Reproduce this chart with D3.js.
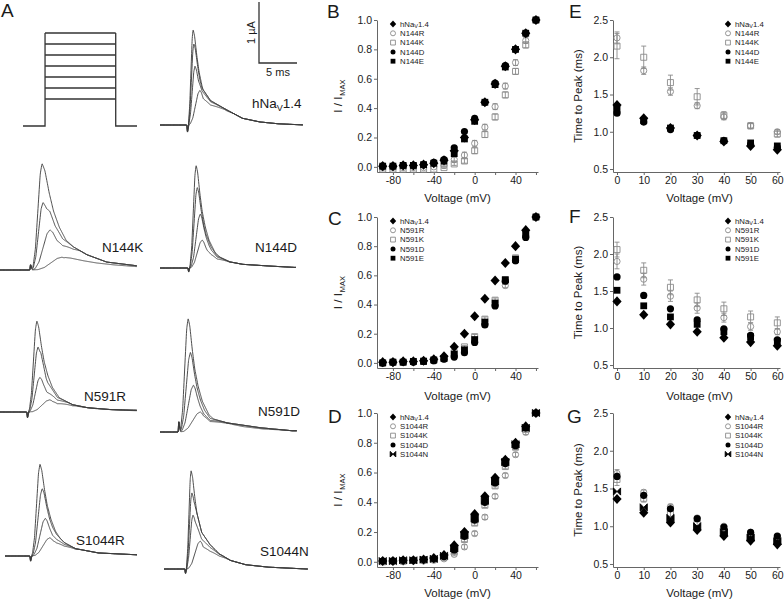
<!DOCTYPE html>
<html><head><meta charset="utf-8">
<script src="https://cdn.jsdelivr.net/npm/d3@7"></script>
<style>
body{margin:0;background:#fff}
svg{display:block}
text{font-family:"Liberation Sans",Arial,Helvetica,sans-serif}
</style>
</head><body>
<svg id="fig" width="784" height="599"></svg>
<script>
// ================= DATA =================
// Panel A: voltage protocol (mV / ms)
const protoLevels = [0, 10, 20, 30, 40, 50, 60];
const protoHolding = -120;
const protoTimes = [0, 2.9, 12.2, 15];   // start, step on, step off, end
const scaleBarUA = 1, scaleBarMs = 5;

// Panel A: current traces (time after onset in ms, current in µA)
const traceLabels = ["hNa", "N144K", "N144D", "N591R", "N591D", "S1044R", "S1044N"];
const traceOnsets = [3.55, 3.95, 3.7, 3.55, 2.4, 3.3, 2.76];
const traceSpikes = [0.15, -0.1, 0.08, 0.12, -0.2, 0.1, 0.1];
const traceDecay  = [1.0, 1.9, 1.0, 1.2, 1.1, 1.2, 1.0];
const tracePeaks = [
  [[0.8, 1.57], [0.9, 1.34], [1.05, 0.97], [1.7, 0.57]],
  [[1.58, 1.75], [1.71, 1.11], [2.63, 0.66], [4.2, 0.21]],
  [[1.05, 1.69], [1.2, 1.33], [1.6, 0.89], [1.85, 0.46]],
  [[1.3, 1.5], [1.45, 1.07], [1.7, 0.57], [3.0, 0.2]],
  [[1.3, 1.87], [1.6, 1.31], [2.0, 0.77], [2.9, 0.33]],
  [[1.3, 1.51], [1.6, 1.11], [2.0, 0.62], [2.6, 0.30]],
  [[0.8, 1.62], [0.9, 1.26], [1.05, 0.89], [2.0, 0.46]]
];
const traceTails = [
  [[1.0, 1.0], [1.5, 0.8], [2.0, 0.6], [3.1, 0.4], [5.2, 0.25], [7.3, 0.11], [9.6, 0.05], [12, 0.02], [15.5, 0]],
  [[2.0, 1.2], [2.6, 1.1], [3.3, 0.8], [4.3, 0.54], [5.7, 0.38], [7.5, 0.25], [10.1, 0.13], [14, 0.07], [17, 0.05]],
  [[1.5, 1.1], [2.2, 0.6], [3.0, 0.35], [3.8, 0.2], [5.5, 0.1], [7.2, 0.06], [11, 0.03], [14, 0.01]],
  [[1.8, 1.1], [2.6, 0.55], [4, 0.25], [6, 0.12], [8, 0.07], [11, 0.04], [14, 0.03], [17, 0.02]],
  [[1.8, 1.3], [2.8, 0.5], [4.2, 0.23], [6.4, 0.15], [10.8, 0.07], [15, 0.02]],
  [[1.8, 1.0], [2.6, 0.55], [3.5, 0.35], [4.5, 0.22], [6, 0.12], [9, 0.05], [14, 0.02]],
  [[1.2, 1.1], [2.2, 0.6], [3.3, 0.4], [4.5, 0.25], [6, 0.14], [8, 0.07], [11, 0.03], [16, 0]]
];

// Panels B-D: normalized current vs voltage
const ivVoltages = [-90, -80, -70, -60, -50, -40, -30, -20, -10, 0, 10, 20, 30, 40, 50, 60];
const ivTickLabels = [-80, -40, 0, 40];
const ivTickAll = [-80, -60, -40, -20, 0, 20, 40, 60];
const ivYTicks = [0, 0.2, 0.4, 0.6, 0.8, 1.0];

const wtIV    = [0.005, 0.005, 0.01, 0.01, 0.015, 0.025, 0.045, 0.11, 0.2, 0.32, 0.44, 0.565, 0.685, 0.80, 0.91, 1.0];
const n144rIV = [-0.005, -0.005, -0.005, -0.005, -0.005, 0, 0.01, 0.05, 0.08, 0.16, 0.27, 0.41, 0.55, 0.71, 0.86, 1.0];
const n144kIV = [-0.015, -0.015, -0.015, -0.015, -0.015, -0.015, -0.005, 0.02, 0.04, 0.11, 0.22, 0.34, 0.49, 0.65, 0.83, 1.0];
const n144dIV = [0.005, 0.005, 0.01, 0.01, 0.015, 0.03, 0.05, 0.13, 0.24, 0.33, 0.44, 0.57, 0.69, 0.80, 0.91, 1.0];
const n144eIV = [0.005, 0.005, 0.01, 0.01, 0.015, 0.025, 0.04, 0.09, 0.19, 0.31, 0.44, 0.56, 0.68, 0.80, 0.91, 1.0];
const n144rIVErr = [0, 0, 0, 0, 0, 0, 0.005, 0.015, 0.02, 0.02, 0.02, 0.02, 0.02, 0.02, 0.02, 0];
const n144kIVErr = [0, 0, 0, 0, 0, 0, 0.005, 0.01, 0.015, 0.02, 0.02, 0.02, 0.02, 0.02, 0.02, 0];

const n591rIV = [0, 0, 0.005, 0.005, 0.01, 0.015, 0.025, 0.05, 0.08, 0.15, 0.27, 0.40, 0.53, 0.70, 0.87, 1.0];
const n591kIV = [0, 0.005, 0.005, 0.01, 0.015, 0.02, 0.03, 0.07, 0.11, 0.18, 0.30, 0.43, 0.57, 0.72, 0.88, 1.0];
const n591dIV = [0, 0.005, 0.005, 0.005, 0.01, 0.015, 0.025, 0.04, 0.07, 0.14, 0.26, 0.39, 0.56, 0.70, 0.86, 1.0];
const n591eIV = [0, 0.005, 0.005, 0.01, 0.01, 0.02, 0.03, 0.06, 0.09, 0.16, 0.28, 0.41, 0.57, 0.71, 0.88, 1.0];
const n591rIVErr = [0, 0, 0, 0, 0, 0, 0.005, 0.01, 0.01, 0.015, 0.015, 0.015, 0.015, 0.015, 0.015, 0];
const n591kIVErr = [0, 0, 0, 0, 0, 0, 0.005, 0.01, 0.01, 0.015, 0.015, 0.015, 0.015, 0.015, 0.015, 0];

const s1044rIV = [0, 0, 0, 0.005, 0.005, 0.01, 0.02, 0.05, 0.10, 0.19, 0.30, 0.44, 0.58, 0.72, 0.87, 1.0];
const s1044kIV = [0, 0.005, 0.005, 0.01, 0.01, 0.015, 0.03, 0.07, 0.15, 0.26, 0.38, 0.51, 0.64, 0.77, 0.89, 1.0];
const s1044dIV = [0.005, 0.005, 0.01, 0.01, 0.015, 0.02, 0.035, 0.08, 0.17, 0.28, 0.40, 0.53, 0.66, 0.78, 0.90, 1.0];
const s1044nIV = [0.005, 0.005, 0.01, 0.01, 0.015, 0.02, 0.04, 0.09, 0.18, 0.29, 0.41, 0.54, 0.67, 0.79, 0.90, 1.0];
const s1044rIVErr = [0, 0, 0, 0, 0, 0, 0.005, 0.01, 0.015, 0.015, 0.015, 0.015, 0.015, 0.015, 0.015, 0];
const s1044kIVErr = [0, 0, 0, 0, 0, 0, 0.005, 0.01, 0.015, 0.015, 0.015, 0.015, 0.015, 0.015, 0.015, 0];

// Panels E-G: time to peak (ms) vs voltage
const tpVoltages = [0, 10, 20, 30, 40, 50, 60];
const tpYTicks = [0.5, 1.0, 1.5, 2.0, 2.5];
const wtTP    = [1.36, 1.18, 1.05, 0.95, 0.87, 0.81, 0.76];
const n144rTP = [2.26, 1.82, 1.54, 1.35, 1.20, 1.08, 1.00];
const n144kTP = [2.15, 2.00, 1.66, 1.47, 1.22, 1.08, 0.97];
const n144dTP = [1.25, 1.13, 1.03, 0.95, 0.88, 0.83, 0.79];
const n144eTP = [1.30, 1.15, 1.05, 0.95, 0.88, 0.85, 0.81];
const n144rTPErr = [0.08, 0.05, 0.05, 0.04, 0.04, 0.03, 0.03];
const n144kTPErr = [0.17, 0.15, 0.10, 0.11, 0.05, 0.04, 0.04];

const n591rTP = [1.90, 1.66, 1.43, 1.27, 1.14, 1.02, 0.95];
const n591kTP = [2.06, 1.78, 1.55, 1.38, 1.26, 1.15, 1.07];
const n591dTP = [1.69, 1.44, 1.26, 1.11, 0.99, 0.90, 0.84];
const n591eTP = [1.51, 1.30, 1.15, 1.05, 0.95, 0.88, 0.82];
const n591rTPErr = [0.10, 0.08, 0.07, 0.07, 0.06, 0.05, 0.04];
const n591kTPErr = [0.10, 0.10, 0.10, 0.09, 0.09, 0.08, 0.08];

const s1044rTP = [1.70, 1.45, 1.26, 1.11, 1.00, 0.92, 0.86];
const s1044kTP = [1.62, 1.37, 1.17, 1.04, 0.94, 0.87, 0.82];
const s1044dTP = [1.66, 1.41, 1.23, 1.10, 0.99, 0.92, 0.87];
const s1044nTP = [1.46, 1.25, 1.11, 1.00, 0.92, 0.85, 0.80];
const s1044rTPErr = [0.05, 0.03, 0.03, 0.02, 0.02, 0.02, 0.02];
const s1044kTPErr = [0.08, 0.05, 0.04, 0.03, 0.03, 0.02, 0.02];

const namesN144  = ["WT", "N144R", "N144K", "N144D", "N144E"];
const namesN591  = ["WT", "N591R", "N591K", "N591D", "N591E"];
const namesS1044 = ["WT", "S1044R", "S1044K", "S1044D", "S1044N"];

// ================= LAYOUT / STYLE =================
const svg = d3.select("#fig");
const TXT = "#1a1a1a", AX = "#666", GR = "#8a8a8a", TR = "#3a3a3a";
const pxPerMs = 7.6, pxPerUA = 61;

// panel letters
[["A", 1, 17], ["B", 327, 18], ["C", 328, 225], ["D", 328, 423],
 ["E", 569, 18], ["F", 569, 223], ["G", 567, 423]].forEach(([t, x, y]) =>
  svg.append("text").attr("x", x).attr("y", y).attr("font-size", 19).attr("fill", TXT).text(t));

// ---- voltage protocol
(function () {
  const x = d3.scaleLinear().domain([0, 1]).range([23, 23 + pxPerMs]);
  const y = d3.scaleLinear().domain([protoHolding, 0, 60]).range([126, 99, 33]);
  const g = svg.append("g").attr("stroke", "#333").attr("stroke-width", 1.3).attr("fill", "none");
  const [t0, tOn, tOff, tEnd] = protoTimes;
  const top = d3.max(protoLevels);
  const path = d3.path();
  path.moveTo(x(t0), y(protoHolding)); path.lineTo(x(tOn), y(protoHolding));
  path.lineTo(x(tOn), y(top)); path.moveTo(x(tOff), y(top));
  path.lineTo(x(tOff), y(protoHolding)); path.lineTo(x(tEnd), y(protoHolding));
  g.append("path").attr("d", path.toString());
  protoLevels.forEach(v => g.append("line").attr("x1", x(tOn)).attr("x2", x(tOff)).attr("y1", y(v)).attr("y2", y(v)));
})();

// ---- scale bar
(function () {
  const x0 = 259, y0 = 63;
  const g = svg.append("g").attr("stroke", "#333").attr("stroke-width", 1.3).attr("fill", "none");
  g.append("path").attr("d", `M${x0},${y0 - scaleBarUA * pxPerUA}V${y0}H${x0 + scaleBarMs * pxPerMs}`);
  svg.append("text").attr("transform", `translate(${x0 - 4},${y0 - scaleBarUA * pxPerUA / 2}) rotate(-90)`)
    .attr("text-anchor", "middle").attr("font-size", 11).attr("fill", TXT).text(scaleBarUA + " µA");
  svg.append("text").attr("x", x0 + scaleBarMs * pxPerMs / 2).attr("y", y0 + 13)
    .attr("text-anchor", "middle").attr("font-size", 11).attr("fill", TXT).text(scaleBarMs + " ms");
})();

// ---- current traces
const traceLayout = [
  {x0: 160, x1: 303, base: 125, lx: 252, ly: 108},
  {x0: 0,   x1: 137, base: 270, lx: 102, ly: 252},
  {x0: 160, x1: 296, base: 268, lx: 255, ly: 252},
  {x0: 0,   x1: 137, base: 412, lx: 84,  ly: 401},
  {x0: 160, x1: 297, base: 432, lx: 258, ly: 416},
  {x0: 5,   x1: 137, base: 556, lx: 76,  ly: 545},
  {x0: 164, x1: 308, base: 569, lx: 260, ly: 556}
];
const riseShape  = d3.scaleLinear().domain([0, 0.25, 0.45, 0.65, 0.85, 1]).range([0, 0.03, 0.2, 0.55, 0.9, 1]).clamp(true);
const spikeShape = d3.scaleLinear().domain([0, 0.06, 0.15, 0.3]).range([0, 1, 0.4, 0]).clamp(true);
const decayShape = d3.scaleLinear().domain([0, 0.2, 0.5, 0.8, 1.2, 1.7, 2.5, 4, 6]).range([1, 0.93, 0.72, 0.55, 0.4, 0.27, 0.15, 0.05, 0]).clamp(true);

traceLabels.forEach((lab, i) => {
  const L = traceLayout[i];
  const tMax = (L.x1 - L.x0) / pxPerMs;
  const x = d3.scaleLinear().domain([0, tMax]).range([L.x0, L.x1]);
  const y = d3.scaleLinear().domain([0, 1]).range([L.base, L.base - pxPerUA]);
  const tl = traceTails[i];
  const tail = d3.scaleLinear().domain(tl.map(d => d[0])).range(tl.map(d => d[1])).clamp(true);
  const onset = traceOnsets[i], spike = traceSpikes[i], dec = traceDecay[i];
  const line = d3.line().x(d => x(d[0])).y(d => y(d[1])).curve(d3.curveBasis);
  const g = svg.append("g");
  tracePeaks[i].forEach(([tp, amp]) => {
    const f0 = Math.min(1, amp / (tail(tp) * 1.1));
    const pts = d3.range(0, tMax + 1e-6, 0.04).map(t => {
      const tr = t - onset;
      let I;
      if (tr < 0) I = 0;
      else if (tr <= tp) I = amp * riseShape(tr / tp) - spike * spikeShape(tr);
      else {
        const f = f0 + (1 - f0) * Math.min(1, (tr - tp) / 4);
        I = Math.max(amp * decayShape((tr - tp) / dec), f * tail(tr));
        I = Math.min(I, amp * decayShape((tr - tp) / (dec * 3)));
      }
      return [t, I];
    });
    g.append("path").attr("d", line(pts)).attr("fill", "none").attr("stroke", TR).attr("stroke-width", 0.9);
  });
  const t = svg.append("text").attr("x", L.lx).attr("y", L.ly).attr("font-size", 13.5).attr("fill", TXT);
  if (lab === "hNa") {
    t.append("tspan").text("hNa");
    t.append("tspan").attr("font-size", 9).attr("dy", 3).text("V");
    t.append("tspan").attr("dy", -3).text("1.4");
  } else t.text(lab);
});

// ---- markers
function markerPath(type, s) {
  if (type === "diamond") return `M0,${-s * 1.1}L${s},0L0,${s * 1.1}L${-s},0Z`;
  if (type === "circle") return `M${-s},0a${s},${s} 0 1,0 ${2 * s},0a${s},${s} 0 1,0 ${-2 * s},0Z`;
  if (type === "square") return `M${-s},${-s}h${2 * s}v${2 * s}h${-2 * s}Z`;
  if (type === "bowtie") return `M${-s},${-s}L0,0L${-s},${s}ZM${s},${-s}L0,0L${s},${s}Z`;
}
const markerSpec = [
  {type: "diamond", fill: "#000", stroke: "none", s: 4.6, ls: 3.2},
  {type: "circle", fill: "none", stroke: GR, s: 3.1, ls: 2.5},
  {type: "square", fill: "none", stroke: GR, s: 3.0, ls: 2.4},
  {type: "circle", fill: "#000", stroke: "none", s: 3.6, ls: 2.5},
  {type: "square", fill: "#000", stroke: "none", s: 3.4, ls: 2.4}
];
function specFor(k, last) {
  if (k === 4 && last === "bowtie") return {type: "bowtie", fill: "#000", stroke: "#000", s: 3.6, ls: 2.8};
  return markerSpec[k];
}
function drawMarker(g, spec, cx, cy, s) {
  g.append("path").attr("transform", `translate(${cx},${cy})`).attr("d", markerPath(spec.type, s))
    .attr("fill", spec.fill).attr("stroke", spec.stroke).attr("stroke-width", spec.stroke === "none" ? 0 : 0.9);
}

function styleAxis(sel) {
  sel.selectAll("path,line").attr("stroke", AX).attr("stroke-width", 1);
  sel.selectAll("text").attr("fill", TXT).attr("font-size", 10.5)
     .attr("font-family", '"Liberation Sans",Arial,Helvetica,sans-serif');
}

function legend(g, names, lastType, mx, y0) {
  names.forEach((n, k) => {
    const spec = specFor(k, lastType);
    const yy = y0 + k * 9.3;
    drawMarker(g, spec, mx, yy, spec.ls);
    const t = g.append("text").attr("x", mx + 7).attr("y", yy + 2.8).attr("font-size", 7.8).attr("fill", TXT);
    if (k === 0) {
      t.append("tspan").text("hNa");
      t.append("tspan").attr("font-size", 5.5).attr("dy", 1.5).text("V");
      t.append("tspan").attr("dy", -1.5).text("1.4");
    } else t.text(n);
  });
}

function scatterPanel(cfg) {
  const g = svg.append("g");
  const {x, y} = cfg;
  const xa = d3.axisBottom(x).tickValues(cfg.xTicks).tickSize(3).tickSizeOuter(0).tickPadding(2)
    .tickFormat(d => cfg.xLabels.includes(d) ? String(d) : "");
  styleAxis(g.append("g").attr("transform", `translate(0,${y.range()[0]})`).call(xa));
  const ya = d3.axisLeft(y).tickValues(cfg.yTicks).tickSize(3).tickSizeOuter(0).tickPadding(2)
    .tickFormat(d3.format(".1f"));
  styleAxis(g.append("g").attr("transform", `translate(${x.range()[0]},0)`).call(ya));
  g.append("text").attr("x", (x.range()[0] + x.range()[1]) / 2 + cfg.xtDx).attr("y", cfg.xtY)
    .attr("text-anchor", "middle").attr("font-size", 11.5).attr("fill", TXT).text("Voltage (mV)");
  const yt = g.append("text").attr("transform", `translate(${cfg.ytX},${(y.range()[0] + y.range()[1]) / 2}) rotate(-90)`)
    .attr("text-anchor", "middle").attr("font-size", 11.5).attr("fill", TXT);
  if (cfg.kind === "iv") {
    yt.append("tspan").text("I / I");
    yt.append("tspan").attr("font-size", 7.5).attr("dy", 3).attr("dx", 1).text("MAX");
  } else yt.text("Time to Peak (ms)");
  const order = [1, 2, 3, 4, 0];
  order.forEach(k => {
    const spec = specFor(k, cfg.lastType);
    const vals = cfg.series[k];
    const err = cfg.errors[k];
    vals.forEach((v, j) => {
      const cx = x(cfg.xs[j]), cy = y(v);
      if (err && err[j] > 0) {
        const y1 = y(v + err[j]), y2 = y(v - err[j]);
        const col = spec.fill === "none" ? GR : "#000";
        g.append("path").attr("d", `M${cx},${y1}V${y2}M${cx - 2.5},${y1}h5M${cx - 2.5},${y2}h5`)
          .attr("stroke", col).attr("stroke-width", 0.9).attr("fill", "none");
      }
      drawMarker(g, spec, cx, cy, spec.s);
    });
  });
  legend(g, cfg.names, cfg.lastType, cfg.legX, y.range()[1] + 4);
}

const ivX = () => d3.scaleLinear().domain([-95.6, 62]).range([377, 538]);
const tpX = () => d3.scaleLinear().domain([-1.5, 61]).range([613, 780]);
const rows = [{top: 20, bottom: 172, title: 202}, {top: 217, bottom: 368, title: 400}, {top: 413, bottom: 567, title: 597}];

const ivSets = [
  {series: [wtIV, n144rIV, n144kIV, n144dIV, n144eIV], errors: [null, n144rIVErr, n144kIVErr, null, null], names: namesN144, lastType: "square"},
  {series: [wtIV, n591rIV, n591kIV, n591dIV, n591eIV], errors: [null, n591rIVErr, n591kIVErr, null, null], names: namesN591, lastType: "square"},
  {series: [wtIV, s1044rIV, s1044kIV, s1044dIV, s1044nIV], errors: [null, s1044rIVErr, s1044kIVErr, null, null], names: namesS1044, lastType: "bowtie"}
];
const tpSets = [
  {series: [wtTP, n144rTP, n144kTP, n144dTP, n144eTP], errors: [null, n144rTPErr, n144kTPErr, null, null], names: namesN144, lastType: "square"},
  {series: [wtTP, n591rTP, n591kTP, n591dTP, n591eTP], errors: [null, n591rTPErr, n591kTPErr, null, null], names: namesN591, lastType: "square"},
  {series: [wtTP, s1044rTP, s1044kTP, s1044dTP, s1044nTP], errors: [null, s1044rTPErr, s1044kTPErr, null, null], names: namesS1044, lastType: "bowtie"}
];

rows.forEach((r, i) => {
  scatterPanel(Object.assign({
    kind: "iv", x: ivX(), y: d3.scaleLinear().domain([-0.035, 1]).range([r.bottom, r.top]),
    xs: ivVoltages, xTicks: ivTickAll, xLabels: ivTickLabels, yTicks: ivYTicks,
    xtY: r.title, xtDx: 0, ytX: 342, legX: 393
  }, ivSets[i]));
  scatterPanel(Object.assign({
    kind: "tp", x: tpX(), y: d3.scaleLinear().domain([0.46, 2.5]).range([r.bottom, r.top]),
    xs: tpVoltages, xTicks: tpVoltages, xLabels: tpVoltages, yTicks: tpYTicks,
    xtY: r.title, xtDx: 3, ytX: 582, legX: 728
  }, tpSets[i]));
});
</script>
</body></html>
